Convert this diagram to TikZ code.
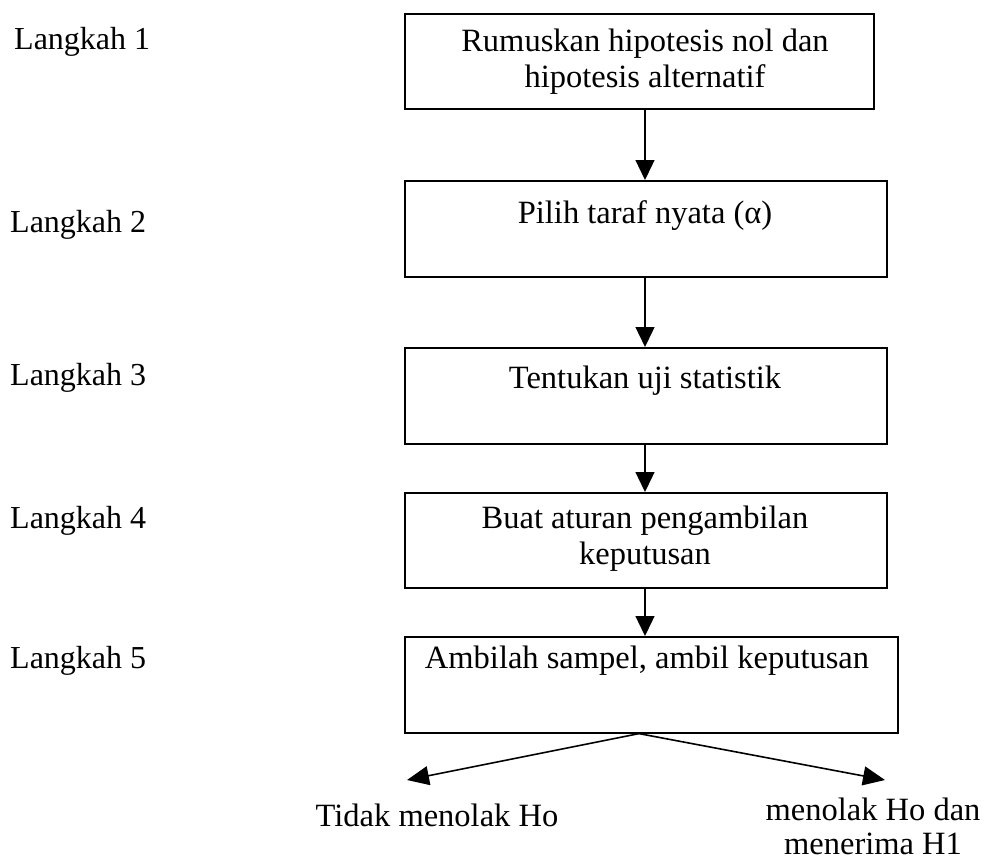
\documentclass[tikz,border=0pt]{standalone}
\usepackage{fontspec}
\setmainfont{Liberation Serif}
\usetikzlibrary{arrows.meta}
\begin{document}
\begin{tikzpicture}[x=1pt,y=-1pt,
  box/.style={draw, line width=1.6pt, anchor=north west, inner sep=0pt},
  txt/.style={font=\fontsize{32.5}{36}\selectfont, align=center, inner sep=0pt},
  lbl/.style={font=\fontsize{32}{36}\selectfont, anchor=west, inner sep=0pt},
  arr/.style={line width=1.3pt, -{Triangle[length=20pt,width=19pt]}},
  arrb/.style={line width=1.6pt, -{Triangle[length=22pt,width=19pt]}}]
\useasboundingbox (0,0) rectangle (987,863);
% step labels
\node[lbl] (l1) at (14,42) {Langkah 1};
\node[lbl] (l2) at (10,225) {Langkah 2};
\node[lbl] (l3) at (10,378) {Langkah 3};
\node[lbl] (l4) at (10,521) {Langkah 4};
\node[lbl] (l5) at (10,661) {Langkah 5};
% boxes
\node[box, minimum width=469pt, minimum height=95pt] (b1) at (404,13) {};
\node[box, minimum width=482pt, minimum height=96pt] (b2) at (404,180) {};
\node[box, minimum width=482pt, minimum height=96pt] (b3) at (404,347) {};
\node[box, minimum width=482pt, minimum height=95pt] (b4) at (404,492) {};
\node[box, minimum width=493pt, minimum height=96pt] (b5) at (404,636) {};
% box texts
\node[txt] (t1) at (645,62) {Rumuskan hipotesis nol dan\\hipotesis alternatif};
\node[txt] (t2) at (645,216) {Pilih taraf nyata (α)};
\node[txt] (t3) at (645,381) {Tentukan uji statistik};
\node[txt] (t4) at (645,539) {Buat aturan pengambilan\\keputusan};
\node[txt] (t5) at (647,661) {Ambilah sampel, ambil keputusan};
% vertical arrows
\draw[arr] ([xshift=241pt]b1.south west) -- ([xshift=241pt]b2.north west);
\draw[arr] ([xshift=241pt]b2.south west) -- ([xshift=241pt]b3.north west);
\draw[arr] ([xshift=241pt]b3.south west) -- ([xshift=241pt]b4.north west);
\draw[arr] ([xshift=241pt]b4.south west) -- ([xshift=241pt]b5.north west);
% outcomes
\coordinate (tl) at (407,780);
\coordinate (tr) at (885,780);
\draw[arrb] ([xshift=235pt]b5.south west) -- (tl);
\draw[arrb] ([xshift=235pt]b5.south west) -- (tr);
\node[txt] (o1) at (437,815) {Tidak menolak Ho};
\node[txt, font=\fontsize{32.5}{34}\selectfont] (o2) at (873,826) {menolak Ho dan\\menerima H1};
\end{tikzpicture}
\end{document}
